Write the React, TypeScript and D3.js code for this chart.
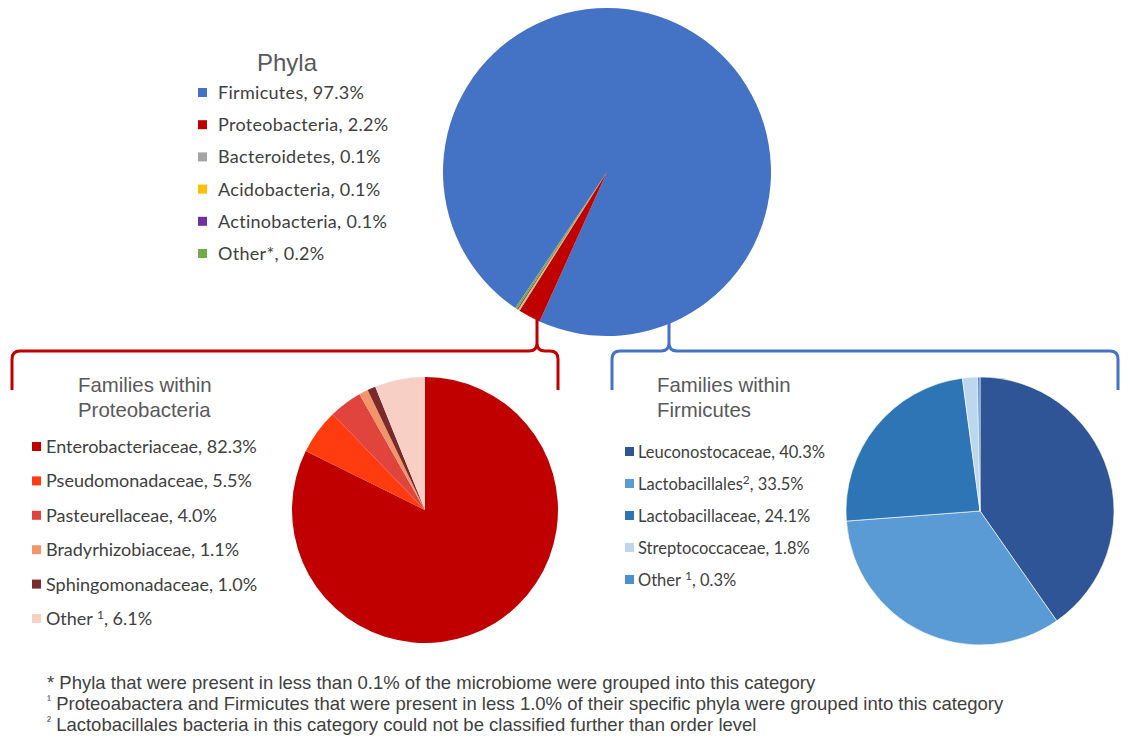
import React from "react";
import * as d3 from "d3";

const phylaNames = ["Firmicutes", "Proteobacteria", "Bacteroidetes", "Acidobacteria", "Actinobacteria", "Other*"];
const phylaValues = [97.3, 2.2, 0.1, 0.1, 0.1, 0.2];
const phylaColors = ["#4472C4", "#C00000", "#A5A5A5", "#FFC000", "#7030A0", "#70AD47"];

const proteoNames = ["Enterobacteriaceae", "Pseudomonadaceae", "Pasteurellaceae", "Bradyrhizobiaceae", "Sphingomonadaceae", "Other"];
const proteoSup = ["", "", "", "", "", "1"];
const proteoValues = [82.3, 5.5, 4.0, 1.1, 1.0, 6.1];
const proteoColors = ["#C00000", "#FF3B0F", "#E0443C", "#F2956B", "#7A2A2A", "#F7CFC5"];

const firmNames = ["Leuconostocaceae", "Lactobacillales", "Lactobacillaceae", "Streptococcaceae", "Other"];
const firmSup = ["", "2", "", "", "1"];
const firmValues = [40.3, 33.5, 24.1, 1.8, 0.3];
const firmColors = ["#2F5597", "#5B9BD5", "#2E75B6", "#BDD7EE", "#4A8FD0"];

const footnotes = [
  { mark: "*", text: " Phyla that were present in less than 0.1% of the microbiome were grouped into this category" },
  { mark: "¹", text: " Proteoabactera and Firmicutes that were present in less 1.0% of their specific phyla were grouped into this category" },
  { mark: "²", text: " Lactobacillales bacteria in this category could not be classified further than order level" },
];

const fmt = (v: number) => v.toFixed(1) + "%";

function Pie({ values, colors, cx, cy, r, start, stroke }: { values: number[]; colors: string[]; cx: number; cy: number; r: number; start: number; stroke?: string }) {
  const rad = (start * Math.PI) / 180;
  const pie = d3.pie<number>().sort(null).value((d) => d).startAngle(rad).endAngle(rad + 2 * Math.PI);
  const arc = d3.arc<d3.PieArcDatum<number>>().innerRadius(0).outerRadius(r);
  return (
    <g transform={`translate(${cx},${cy})`}>
      {pie(values).map((a, i) => (
        <path key={i} d={arc(a) || ""} fill={colors[i]} stroke={stroke || "none"} strokeWidth={stroke ? 0.6 : 0} />
      ))}
    </g>
  );
}

function bracketPath(x0: number, x1: number, y: number, cusp: number, tipY: number, bottom: number) {
  const c = 8;
  return [
    `M${x0},${bottom}`,
    `L${x0},${y + c}`,
    `Q${x0},${y} ${x0 + c},${y}`,
    `L${cusp - c},${y}`,
    `Q${cusp},${y} ${cusp},${y - c}`,
    `L${cusp},${tipY}`,
    `M${cusp},${y - c}`,
    `Q${cusp},${y} ${cusp + c},${y}`,
    `L${x1 - c},${y}`,
    `Q${x1},${y} ${x1},${y + c}`,
    `L${x1},${bottom}`,
  ].join(" ");
}

export default function App() {
  const legFont = "Lato, 'Open Sans', sans-serif";
  const sans = "'Liberation Sans', Arial, sans-serif";
  const textColor = "#404040";
  return (
    <svg width={1129} height={736} style={{ position: "absolute", left: 0, top: 0, background: "#fff" }}>
      <rect width={1129} height={736} fill="#fff" />
      {/* Top pie */}
      <Pie values={phylaValues} colors={phylaColors} cx={607} cy={172} r={164} start={214} />
      {/* Phyla legend */}
      <text x={287} y={71} textAnchor="middle" fontFamily={sans} fontSize={24} fill="#595959">Phyla</text>
      {phylaNames.map((n, i) => (
        <g key={n} transform={`translate(198,${93 + i * 32.2})`}>
          <rect x={0} y={-5} width={9} height={9} fill={phylaColors[i]} />
          <text x={20} y={6} fontFamily={legFont} fontSize={18} letterSpacing={0.3} fill={textColor}>{`${n}, ${fmt(phylaValues[i])}`}</text>
        </g>
      ))}

      {/* Brackets */}
      <path d={bracketPath(12, 558, 351, 537, 318, 390)} fill="none" stroke="#C00000" strokeWidth={3} />
      <path d={bracketPath(612, 1118, 351, 669, 322, 390)} fill="none" stroke="#4472C4" strokeWidth={3} />

      {/* Proteobacteria */}
      <text fontFamily={sans} fontSize={20.4} fill="#595959">
        <tspan x={78} y={392}>Families within</tspan>
        <tspan x={78} y={417}>Proteobacteria</tspan>
      </text>
      {proteoNames.map((n, i) => (
        <g key={n} transform={`translate(32,${447 + i * 34.4})`}>
          <rect x={0} y={-5} width={9} height={9} fill={proteoColors[i]} />
          <text x={14} y={6} fontFamily={legFont} fontSize={18} fill={textColor}>
            {n}
            {proteoSup[i] ? <tspan dx={4} dy={-6} fontSize={12}>{proteoSup[i]}</tspan> : null}
            {proteoSup[i] ? <tspan dy={6}>{`, ${fmt(proteoValues[i])}`}</tspan> : `, ${fmt(proteoValues[i])}`}
          </text>
        </g>
      ))}
      <Pie values={proteoValues} colors={proteoColors} cx={425} cy={510} r={133} start={0} />

      {/* Firmicutes */}
      <text fontFamily={sans} fontSize={20.4} fill="#595959">
        <tspan x={657} y={392}>Families within</tspan>
        <tspan x={657} y={417}>Firmicutes</tspan>
      </text>
      {firmNames.map((n, i) => (
        <g key={n} transform={`translate(625,${452 + i * 32})`}>
          <rect x={0} y={-5} width={9} height={9} fill={firmColors[i]} />
          <text x={13} y={6} fontFamily={legFont} fontSize={16.5} fill={textColor}>
            {n}
            {firmSup[i] ? <tspan dx={firmSup[i] === "1" ? 4 : 0} dy={-6} fontSize={12}>{firmSup[i]}</tspan> : null}
            {firmSup[i] ? <tspan dy={6}>{`, ${fmt(firmValues[i])}`}</tspan> : `, ${fmt(firmValues[i])}`}
          </text>
        </g>
      ))}
      <Pie values={firmValues} colors={firmColors} cx={980} cy={511} r={134} start={0} stroke="#fff" />

      {/* Footnotes */}
      {footnotes.map((f, i) => (
        <text key={i} x={47} y={689 + i * 21} fontFamily={sans} fontSize={18.5} fill={textColor}>
          <tspan fontSize={f.mark === "*" ? 18.5 : 12} dy={f.mark === "*" ? 0 : -6}>{f.mark}</tspan>
          <tspan dy={f.mark === "*" ? 0 : 6}>{f.text}</tspan>
        </text>
      ))}
    </svg>
  );
}
